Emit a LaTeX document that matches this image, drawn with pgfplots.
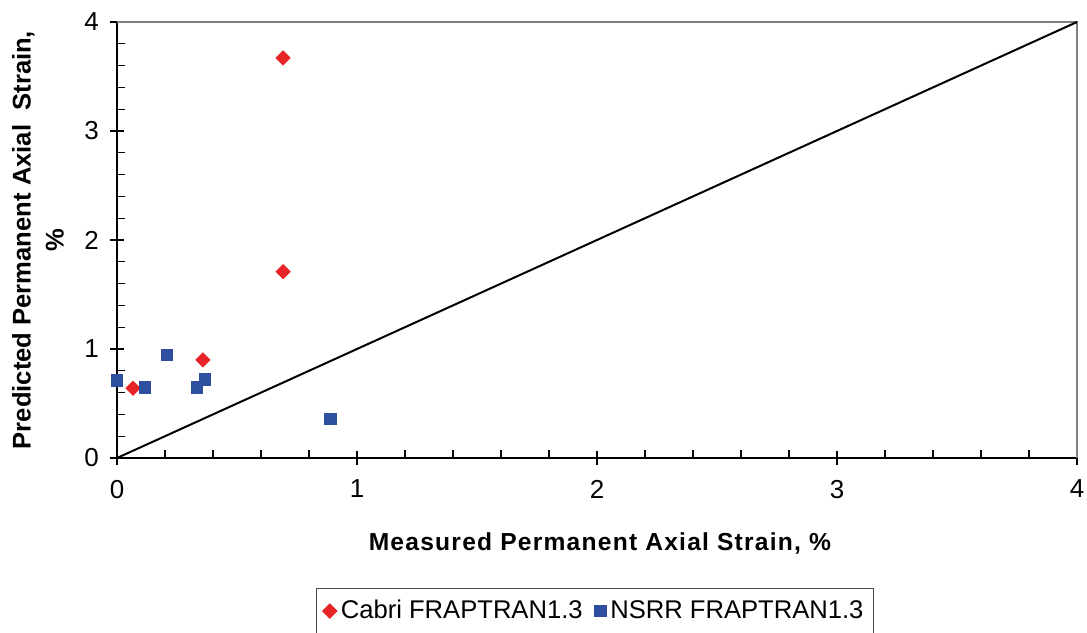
\documentclass[border=0pt]{standalone}
\usepackage{fontspec}
\setmainfont{Liberation Sans}
\usepackage{pgfplots}
\pgfplotsset{compat=1.18}
\definecolor{cred}{RGB}{232,36,40}
\definecolor{cblue}{RGB}{46,79,160}
\pgfplotsset{mylegimg/.style={legend image code/.code={\draw[##1] plot coordinates {(0.12cm,0cm)};}}}
\begin{document}
\begin{tikzpicture}
\useasboundingbox (0,0) rectangle (543.5pt,316pt);
\begin{axis}[
  scale only axis, width=480pt, height=218pt,
  anchor=south west, at={(58.5pt,87pt)},
  xmin=0, xmax=4, ymin=0, ymax=4,
  xtick={0,1,2,3,4}, ytick={0,1,2,3,4},
  minor x tick num=4, minor y tick num=4,
  axis x line*=bottom, axis y line*=left,
  axis line style={black, line width=0.8pt, -},
  tick align=center,
  major tick length=7pt, minor tick length=4pt,
  tick style={black, line width=0.6pt},
  minor x tick style={yshift=2pt},
  minor y tick style={xshift=2pt},
  tick label style={font=\fontsize{13}{15}\selectfont},
  /pgf/number format/assume math mode=true,
  xticklabel style={yshift=-4pt},
  yticklabel style={xshift=-2pt},
  xlabel={Measured Permanent Axial Strain, \%},
  ylabel={Predicted Permanent Axial\ \ Strain,\\\%},
  every axis x label/.style={at={(axis description cs:0.503,-0.197)}, anchor=center, font=\fontsize{12.3}{14}\selectfont\bfseries\addfontfeature{LetterSpace=5}},
  every axis y label/.style={at={(axis description cs:-0.0823,0.5)}, rotate=90, anchor=center, align=center, font=\fontsize{12.8}{16.5}\selectfont\bfseries},
  legend style={at={(axis description cs:0.498,-0.351)}, anchor=center, draw=black!70, line width=0.5pt, legend columns=2, inner xsep=3pt, inner ysep=4pt,
    font=\fontsize{12.8}{15}\selectfont,
    nodes={inner xsep=2pt},
    /tikz/every even column/.append style={column sep=4pt}},
  legend cell align=left,
  clip=false,
]
\draw[gray, line width=0.8pt] (rel axis cs:0,1) -- (rel axis cs:1,1) -- (rel axis cs:1,0);
\addplot[only marks, mark=square*, mark size=2.5pt, color=cred, mark options={fill=cred, draw=cred, rotate=45}, mylegimg]
  coordinates {(0.692,3.67) (0.692,1.71) (0.358,0.90) (0.067,0.64)};
\addlegendentry{Cabri FRAPTRAN1.3}
\addplot[only marks, mark=square*, mark size=2.9pt, color=cblue, mark options={fill=cblue, draw=cblue}, mylegimg]
  coordinates {(0,0.71) (0.117,0.65) (0.208,0.945) (0.333,0.65) (0.367,0.72) (0.888,0.36)};
\addlegendentry{NSRR FRAPTRAN1.3}
\addplot[black, line width=1pt, forget plot] coordinates {(0,0) (4,4)};
\end{axis}
\end{tikzpicture}
\end{document}
